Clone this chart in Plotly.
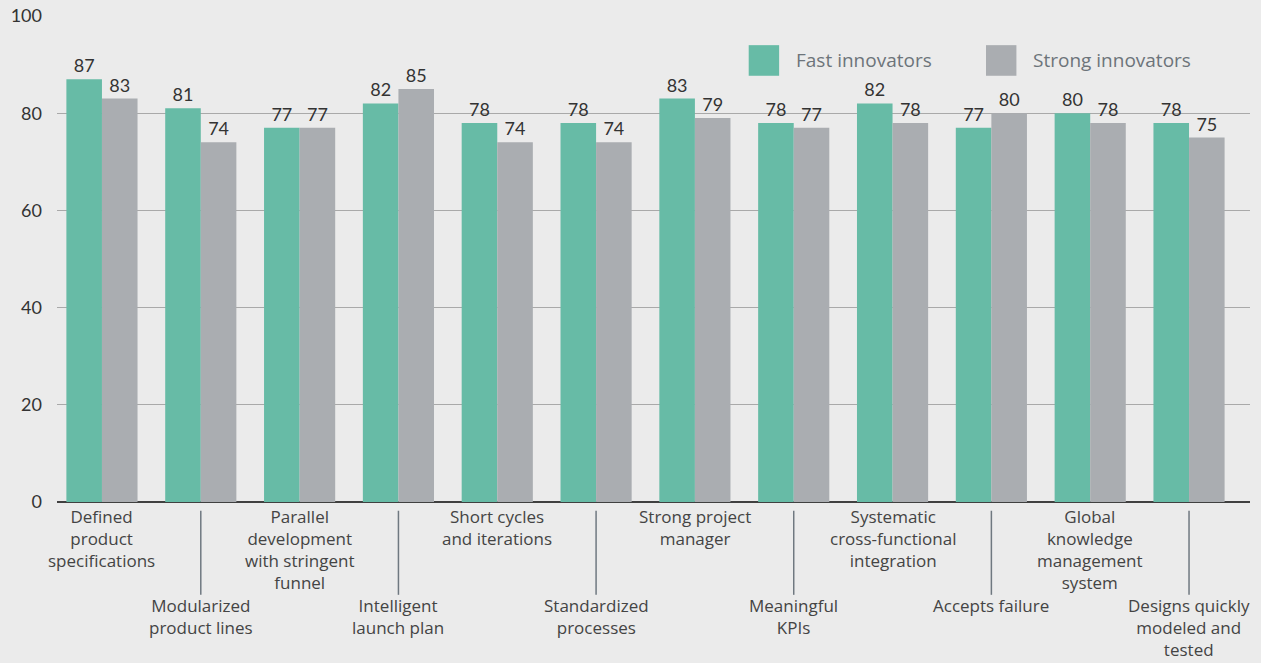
import plotly.graph_objects as go

categories = [
    "Defined<br>product<br>specifications",
    "Modularized<br>product lines",
    "Parallel<br>development<br>with stringent<br>funnel",
    "Intelligent<br>launch plan",
    "Short cycles<br>and iterations",
    "Standardized<br>processes",
    "Strong project<br>manager",
    "Meaningful<br>KPIs",
    "Systematic<br>cross-functional<br>integration",
    "Accepts failure",
    "Global<br>knowledge<br>management<br>system",
    "Designs quickly<br>modeled and<br>tested",
]
fast = [87, 81, 77, 82, 78, 78, 83, 78, 82, 77, 80, 78]
strong = [83, 74, 77, 85, 74, 74, 79, 77, 78, 80, 78, 75]
series_names = ["Fast innovators", "Strong innovators"]
y_ticks = [0, 20, 40, 60, 80, 100]

GREEN = "#67bba6"
GRAY = "#aaadb1"
BG = "#ebebeb"
FONT = "Lato"
LABEL_FONT = "Open Sans"

idx = list(range(len(categories)))

fig = go.Figure()
for name, vals, col in [(series_names[0], fast, GREEN), (series_names[1], strong, GRAY)]:
    fig.add_trace(go.Bar(
        x=idx, y=vals, name=name, marker_color=col, marker_line_width=0,
        text=[str(v) for v in vals], textposition="outside",
        textfont=dict(family=FONT, size=18, color="#333333"),
        cliponaxis=False, showlegend=False,
    ))

annotations = []
shapes = []
for i, c in enumerate(categories):
    upper = (i % 2 == 0)
    annotations.append(dict(
        x=i, xref="x", y=-0.004 if upper else -0.187, yref="paper",
        text=c, showarrow=False, xanchor="center", yanchor="top", borderpad=0,
        font=dict(family=LABEL_FONT, size=17, color="#444444"), align="center",
    ))
    if not upper:
        shapes.append(dict(type="line", xref="x", yref="paper", x0=i, x1=i,
                           y0=-0.018, y1=-0.191,
                           line=dict(color="#6f7880", width=1.5)))

# custom legend
leg = [(0.5798, series_names[0], GREEN), (0.7787, series_names[1], GRAY)]
for x0, name, col in leg:
    shapes.append(dict(type="rect", xref="paper", yref="paper",
                       x0=x0, x1=x0 + 0.0255, y0=0.877, y1=0.94,
                       fillcolor=col, line_width=0))
    annotations.append(dict(x=x0 + 0.038, xref="paper", y=0.909, yref="paper",
                            text=name, showarrow=False, xanchor="left", yanchor="middle",
                            font=dict(family=LABEL_FONT, size=19, color="#6d747a")))

fig.update_layout(
    width=1261, height=663,
    margin=dict(l=57, r=11, t=16, b=161),
    paper_bgcolor=BG, plot_bgcolor=BG,
    barmode="group", bargap=0.28, bargroupgap=0,
    shapes=shapes, annotations=annotations,
    xaxis=dict(range=[-0.455, 11.617], showticklabels=False, showgrid=False,
               zeroline=False, showline=False, fixedrange=True, automargin=False),
    yaxis=dict(range=[0, 100], tickvals=y_ticks, showgrid=True, gridcolor="#a9a9a9",
               gridwidth=1, zeroline=True, zerolinecolor="#404040", zerolinewidth=2,
               tickfont=dict(family=FONT, size=18, color="#333333"),
               ticklabelstandoff=14, showline=False, automargin=False),
)

fig.write_html("out.html", config={"displayModeBar": False})

with open("out.html", "r", encoding="utf-8") as f:
    html = f.read()
html = html.replace("<head>", "<head><style>html,body{margin:0;padding:0;overflow:hidden;background:#ebebeb;}</style>", 1)
with open("out.html", "w", encoding="utf-8") as f:
    f.write(html)
